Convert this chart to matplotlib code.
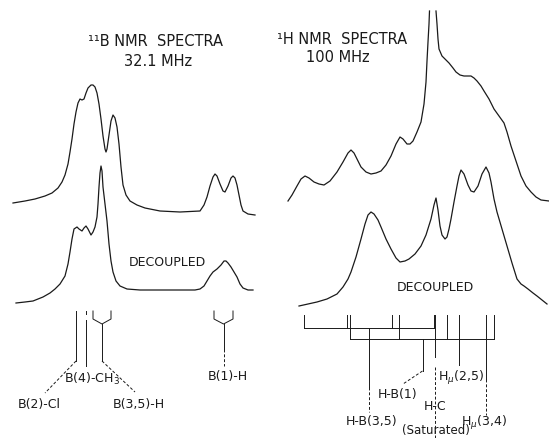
import numpy as np
import matplotlib.pyplot as plt

# traces, x/y in picture units (y grows downward)
b11_cpl_x = [13, 25, 35, 45, 52, 58, 62, 65, 68, 70, 72, 74, 76, 78, 80, 82, 84, 86, 88, 91, 93, 95, 97, 99,
             101, 103, 105, 106, 107, 109, 111, 113, 115, 117, 119, 121, 123, 126, 130, 137, 145, 160, 180,
             200, 204, 207, 210, 213, 215, 217, 220, 223, 225, 228, 231, 233, 235, 237, 239, 241, 243, 248, 255]
b11_cpl_y = [204, 202, 200, 197, 194, 189, 183, 176, 165, 153, 140, 125, 113, 104, 100, 101, 100, 94, 89, 86,
             86, 88, 94, 105, 120, 137, 150, 153, 150, 136, 122, 116, 119, 128, 145, 168, 186, 196, 202, 206,
             209, 212, 213, 212, 206, 198, 187, 178, 175, 177, 185, 192, 193, 187, 179, 177, 179, 186, 196, 206,
             212, 215, 216]

b11_dec_x = [16, 25, 33, 43, 50, 55, 60, 65, 68, 70, 72, 74, 77, 79, 82, 84, 86, 88, 91, 93, 95, 97, 98, 99,
             100, 101, 102, 103, 105, 107, 109, 111, 113, 116, 120, 127, 140, 167, 195, 200, 204, 207, 210,
             213, 217, 221, 224, 226, 228, 231, 234, 237, 240, 243, 248, 253]
b11_dec_y = [304, 303, 302, 298, 294, 290, 285, 277, 265, 253, 240, 230, 228, 230, 232, 229, 227, 230, 236,
             233, 228, 218, 205, 188, 174, 167, 172, 188, 205, 222, 245, 262, 273, 282, 287, 290, 291, 291,
             291, 290, 287, 282, 277, 273, 270, 266, 262, 262, 264, 268, 273, 278, 285, 289, 291, 291]

h1_cpl_x = [288, 292, 297, 301, 305, 309, 314, 319, 324, 330, 337, 343, 348, 351, 354, 358, 361, 366, 371,
            376, 381, 386, 391, 396, 400, 403, 407, 410, 413, 417, 421, 424, 426, 427, 428, 429, 429.5,
            np.nan,
            436, 437, 438, 439, 442, 446, 449, 453, 456, 460, 464, 468, 471, 474, 477, 481, 484, 489, 494,
            499, 504, 507, 511, 516, 521, 526, 531, 536, 541, 549]
h1_cpl_y = [202, 196, 187, 180, 177, 179, 183, 185, 186, 182, 173, 163, 154, 151, 154, 162, 168, 173, 175,
            174, 172, 166, 157, 145, 138, 140, 145, 145, 142, 133, 123, 105, 83, 62, 43, 25, 12,
            np.nan,
            12, 25, 40, 50, 57, 61, 64, 69, 73, 76, 77, 77, 77, 79, 82, 87, 92, 100, 110,
            117, 124, 133, 147, 162, 177, 187, 193, 198, 201, 202]

h1_dec_x = [299, 308, 317, 327, 337, 343, 348, 351, 356, 361, 365, 368, 371, 374, 378, 381, 386, 391, 396,
            400, 405, 409, 415, 421, 426, 431, 434, 436, 438, 440, 442, 445, 447, 449, 451, 454, 457, 459,
            461, 464, 468, 471, 474, 478, 482, 486, 489, 491, 494, 497, 502, 507, 512, 517, 521, 524, 528,
            533, 537, 542, 547]
h1_dec_y = [307, 305, 303, 300, 295, 288, 280, 273, 258, 240, 225, 216, 213, 215, 221, 228, 240, 250, 259,
            263, 262, 260, 255, 247, 236, 220, 206, 199, 211, 227, 236, 240, 238, 230, 220, 203, 187, 177,
            171, 175, 186, 192, 193, 187, 175, 168, 174, 183, 200, 213, 230, 247, 264, 280, 285, 287, 290,
            294, 297, 301, 305]

# stick diagrams: line positions of each assignment
b11_sticks = {'B(2)-Cl': [76], 'B(4)-CH$_3$': [86], 'B(3,5)-H': [93, 111], 'B(1)-H': [214, 233]}
h1_quartets = {'H-B(3,5)': [304, 347, 392, 434], 'H-B(1)': [350, 399, 447, 494]}
h1_singles = {'H-C': 435, 'H$_\\mu$(2,5)': 459, 'H$_\\mu$(3,4)': 486}

ink = '#1a1a1a'
lw = 0.9

fig = plt.figure(figsize=(5.49, 4.39), dpi=100)
ax = fig.add_axes([0, 0, 1, 1])
ax.set_xlim(0, 549)
ax.set_ylim(439, 0)
ax.axis('off')

for xs, ys in [(b11_cpl_x, b11_cpl_y), (b11_dec_x, b11_dec_y), (h1_cpl_x, h1_cpl_y), (h1_dec_x, h1_dec_y)]:
    ax.plot(xs, ys, color=ink, lw=lw, solid_joinstyle='round')

txt = dict(color=ink, ha='center', va='center', family='DejaVu Sans')
ax.text(155, 42, '¹¹B NMR  SPECTRA', fontsize=10.5, **txt)
ax.text(158, 61, '32.1 MHz', fontsize=10.5, **txt)
ax.text(342, 40, '¹H NMR  SPECTRA', fontsize=10.5, **txt)
ax.text(338, 57, '100 MHz', fontsize=10.5, **txt)
ax.text(167, 263, 'DECOUPLED', fontsize=9, **txt)
ax.text(435, 288, 'DECOUPLED', fontsize=9, **txt)

# 11B sticks
top, mid, bot = 312, 320, 325
x = b11_sticks['B(2)-Cl'][0]
ax.plot([x, x], [top, 362], color=ink, lw=0.7)
ax.plot([x, 45], [362, 394], color=ink, lw=0.7, ls=(0, (3, 2)))
ax.text(39, 405, 'B(2)-Cl', fontsize=9, **txt)
x = b11_sticks['B(4)-CH$_3$'][0]
ax.plot([x, x], [312, 315], color=ink, lw=0.7)
ax.plot([x, x], [321, 367], color=ink, lw=0.7)
ax.text(92, 379, 'B(4)-CH$_3$', fontsize=9, **txt)
for name, lab_xy, tail in [('B(3,5)-H', (139, 405), (135, 393)), ('B(1)-H', (228, 377), None)]:
    a, b = b11_sticks[name]
    c = (a + b) / 2
    ax.plot([a, a, c, b, b], [top, mid, bot, mid, top], color=ink, lw=0.7)
    if tail:
        ax.plot([c, c], [bot, 362], color=ink, lw=0.7)
        ax.plot([c, tail[0]], [362, tail[1]], color=ink, lw=0.7, ls=(0, (3, 2)))
    else:
        ax.plot([c, c], [bot, 350], color=ink, lw=0.7)
        ax.plot([c, c], [350, 367], color=ink, lw=0.7, ls=(0, (3, 2)))
    ax.text(*lab_xy, name, fontsize=9, **txt)

# 1H sticks
for name, yb in [('H-B(3,5)', 329), ('H-B(1)', 340)]:
    q = h1_quartets[name]
    for p in q:
        ax.plot([p, p], [316, yb], color=ink, lw=0.7)
    ax.plot([q[0], q[-1]], [yb, yb], color=ink, lw=0.7)
c = np.mean(h1_quartets['H-B(3,5)'])
ax.plot([c, c], [329, 388], color=ink, lw=0.7)
ax.plot([c, c], [388, 413], color=ink, lw=0.7, ls=(0, (3, 2)))
ax.text(372, 422, 'H-B(3,5)', fontsize=9, **txt)
c = np.mean(h1_quartets['H-B(1)'])
ax.plot([c, c], [340, 372], color=ink, lw=0.7)
ax.plot([c, 403], [372, 385], color=ink, lw=0.7, ls=(0, (3, 2)))
ax.text(398, 395, 'H-B(1)', fontsize=9, **txt)

x = h1_singles['H-C']
ax.plot([x, x], [316, 358], color=ink, lw=0.7)
ax.plot([x, x], [368, 439], color=ink, lw=0.7, ls=(0, (3, 2)))
ax.text(x, 407, 'H-C', fontsize=9, **txt)
ax.text(x + 1, 431, '(Saturated)', fontsize=8.5, **txt)
x = h1_singles['H$_\\mu$(2,5)']
ax.plot([x, x], [316, 366], color=ink, lw=0.7)
ax.text(461, 378, 'H$_\\mu$(2,5)', fontsize=9, **txt)
x = h1_singles['H$_\\mu$(3,4)']
ax.plot([x, x], [316, 380], color=ink, lw=0.7)
ax.plot([x, x], [380, 416], color=ink, lw=0.7, ls=(0, (3, 2)))
ax.text(484, 423, 'H$_\\mu$(3,4)', fontsize=9, **txt)

fig.savefig('out.png', dpi=100, facecolor='white')
